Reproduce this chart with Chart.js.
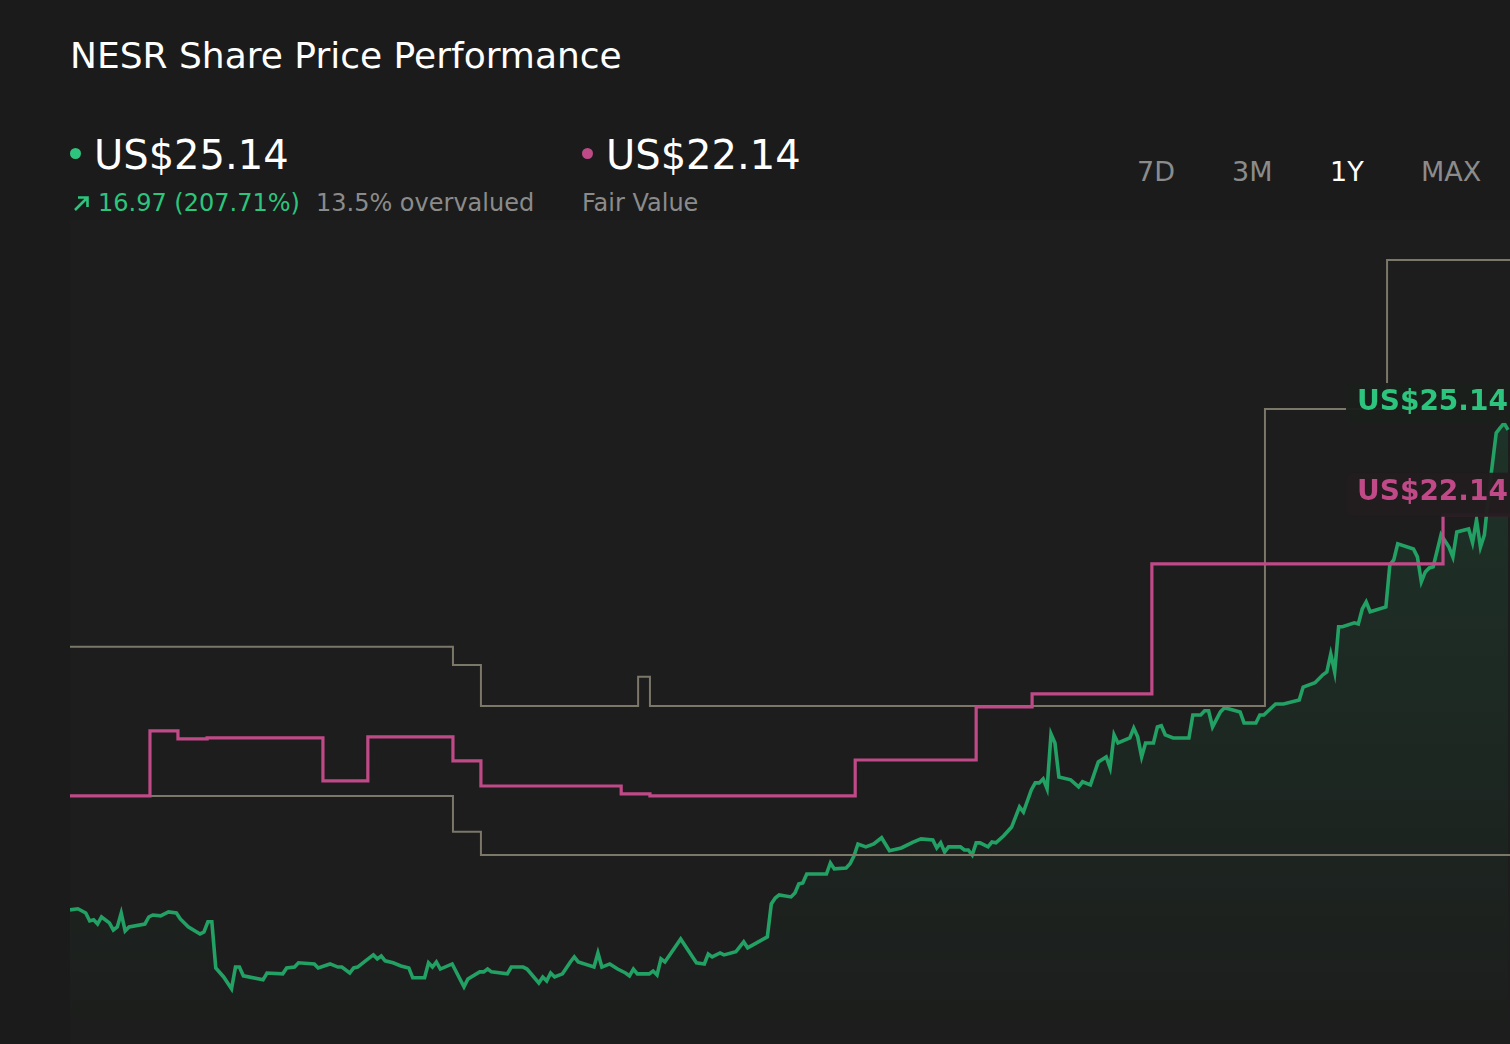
<!DOCTYPE html>
<html>
<head>
<meta charset="utf-8">
<script src="https://cdn.jsdelivr.net/npm/chart.js@4.4.1/dist/chart.umd.min.js"></script>
<style>
  html, body { margin: 0; padding: 0; background: #1b1b1b; }
  body { width: 1510px; height: 1044px; position: relative; overflow: hidden; font-family: 'DejaVu Sans', sans-serif; color: #fff; }
  .abs { position: absolute; white-space: nowrap; line-height: 1; }
  .title { left: 70px; top: 38px; font-size: 36px; }
  .big { top: 135px; font-size: 40px; }
  .dot { position: absolute; width: 11px; height: 11px; border-radius: 50%; }
  .sub { top: 191px; font-size: 24px; }
  .muted { color: #8b8b8b; }
  .up { color: #2dc57e; }
  .range { top: 158px; font-size: 27px; color: #8b8b8b; }
  .range.on { color: #fff; }
  #chartBox { position: absolute; left: 70px; top: 220px; width: 1440px; height: 824px; }
</style>
</head>
<body>
<div class="abs title">NESR Share Price Performance</div>

<div class="dot" style="left:70px; top:148px; background:#2dc57e;"></div>
<div class="abs big" style="left:94px;">US$25.14</div>
<svg class="abs" style="left:72px; top:193px;" width="20" height="20" viewBox="0 0 20 20">
  <path d="M3 17 L15 5 M6 4.5 H15.5 V14" stroke="#2dc57e" stroke-width="2.6" fill="none"/>
</svg>
<div class="abs sub up" style="left:98px;">16.97 (207.71%)</div>
<div class="abs sub muted" style="left:316px;">13.5% overvalued</div>

<div class="dot" style="left:582px; top:148px; background:#c04a88;"></div>
<div class="abs big" style="left:606px;">US$22.14</div>
<div class="abs sub muted" style="left:582px;">Fair Value</div>

<div class="abs range" style="left:1137px;">7D</div>
<div class="abs range" style="left:1232px;">3M</div>
<div class="abs range on" style="left:1330px;">1Y</div>
<div class="abs range" style="left:1421px;">MAX</div>

<div id="chartBox"><canvas id="priceChart" width="1440" height="824"></canvas></div>

<script>
// share price, days since start of the 1Y window
const priceDays = [0, 2, 4, 5, 6, 7, 8, 10, 11, 12, 13, 14, 15, 19, 20, 21, 23, 25, 27, 28, 30, 33, 34, 35, 36, 37, 39, 41, 42, 43, 44, 49, 50, 54, 55, 57, 58, 62, 63, 66, 68, 69, 71, 72, 73, 75, 77, 78, 79, 80, 82, 84, 86, 87, 90, 91, 92, 93, 94, 97, 100, 101, 104, 105, 106, 107, 111, 112, 115, 116, 119, 120, 121, 122, 123, 125, 127, 128, 129, 133, 134, 135, 137, 139, 141, 142, 143, 144, 147, 148, 149, 150, 151, 155, 159, 161, 162, 163, 165, 166, 169, 171, 172, 177, 178, 179, 180, 183, 184, 185, 186, 187, 192, 193, 194, 197, 198, 199, 200, 202, 204, 206, 208, 211, 214, 216, 219, 220, 221, 222, 223, 226, 227, 228, 229, 230, 231, 233, 234, 235, 237, 239, 241, 242, 244, 245, 246, 247, 248, 249, 250, 251, 254, 256, 257, 259, 261, 263, 264, 265, 266, 269, 270, 271, 272, 273, 275, 276, 277, 278, 280, 284, 285, 287, 288, 289, 290, 292, 293, 294, 297, 298, 301, 302, 303, 306, 308, 312, 313, 316, 318, 319, 320, 321, 322, 323, 326, 327, 328, 329, 330, 334, 335, 336, 337, 341, 342, 343, 344, 345, 346, 348, 350, 351, 352, 355, 356, 357, 358, 359, 360, 362, 363, 364, 365];
const priceValues = [8.17, 8.21, 8.06, 7.78, 7.82, 7.67, 7.92, 7.71, 7.46, 7.57, 8.06, 7.43, 7.57, 7.67, 7.92, 7.99, 7.96, 8.10, 8.06, 7.85, 7.57, 7.32, 7.39, 7.75, 7.75, 6.12, 5.80, 5.38, 6.15, 6.15, 5.84, 5.70, 5.94, 5.91, 6.12, 6.15, 6.30, 6.26, 6.12, 6.26, 6.15, 6.15, 5.94, 6.12, 6.15, 6.37, 6.58, 6.44, 6.54, 6.37, 6.30, 6.19, 6.12, 5.77, 5.77, 6.30, 6.15, 6.33, 6.08, 6.26, 5.45, 5.73, 5.98, 5.98, 6.08, 5.98, 5.91, 6.15, 6.15, 6.08, 5.59, 5.80, 5.66, 5.94, 5.80, 5.91, 6.33, 6.51, 6.33, 6.15, 6.65, 6.15, 6.26, 6.08, 5.94, 5.84, 6.08, 5.91, 5.91, 6.01, 5.87, 6.44, 6.33, 7.14, 6.30, 6.26, 6.61, 6.51, 6.65, 6.58, 6.69, 7.04, 6.83, 7.22, 8.38, 8.59, 8.70, 8.63, 8.77, 9.09, 9.12, 9.44, 9.44, 9.83, 9.62, 9.65, 9.80, 10.08, 10.50, 10.40, 10.50, 10.72, 10.26, 10.36, 10.57, 10.68, 10.64, 10.36, 10.54, 10.22, 10.40, 10.40, 10.29, 10.29, 10.11, 10.54, 10.54, 10.40, 10.57, 10.54, 10.79, 11.10, 11.81, 11.63, 12.41, 12.66, 12.66, 12.80, 12.45, 14.39, 14.07, 12.87, 12.77, 12.52, 12.70, 12.59, 13.40, 13.58, 13.19, 14.36, 14.07, 14.25, 14.60, 14.29, 13.58, 14.07, 14.07, 14.64, 14.68, 14.36, 14.25, 14.25, 15.06, 15.06, 15.21, 15.21, 14.64, 15.17, 15.31, 15.28, 15.17, 14.78, 14.78, 15.06, 15.06, 15.45, 15.45, 15.59, 16.05, 16.20, 16.48, 16.58, 17.22, 16.58, 18.18, 18.18, 18.32, 18.28, 18.81, 19.06, 18.71, 18.88, 20.37, 20.54, 21.11, 20.93, 20.65, 19.77, 20.12, 20.26, 20.30, 21.43, 21.00, 20.65, 21.53, 21.64, 21.15, 21.96, 21.00, 21.43, 22.77, 25.03, 25.21, 25.38, 25.14];

// fair value estimate (step changes)
const fairDays = [0, 20.3, 27.4, 34.8, 64.2, 75.6, 97.2, 104.3, 139.9, 147.2, 199.3, 230.0, 244.2, 274.6, 348.5, 365.5];
const fairValues = [12.20, 14.50, 14.22, 14.25, 12.73, 14.29, 13.44, 12.55, 12.27, 12.20, 13.47, 15.35, 15.81, 20.40, 22.14, 22.14];

// analyst target range
const highDays = [0, 97.2, 104.3, 144.2, 147.2, 303.3, 334.3, 365.5];
const highValues = [17.47, 16.83, 15.38, 16.41, 15.38, 25.88, 31.15, 31.15];
const lowDays = [0, 97.2, 104.3, 365.5];
const lowValues = [12.20, 10.93, 10.11, 10.11];

const lastPrice = 25.14;
const fairValue = 22.14;

const GREEN = '#23a064';
const GREEN_TEXT = '#2dc57e';
const PINK = '#c04a88';
const GREY = '#7b786a';

const toPoints = (xs, ys) => xs.map((d, i) => ({ x: d, y: ys[i] }));

const areaBg = {
    id: 'areaBg',
    beforeDraw(chart) {
        const { ctx, chartArea: a } = chart;
        ctx.save();
        ctx.fillStyle = '#1c1d1c';
        ctx.fillRect(a.left, a.top, a.right - a.left, a.bottom - a.top);
        ctx.restore();
    }
};

function drawTag(ctx, right, centerY, text, color, bg, below) {
    const left = right - 164;
    const top = centerY - 19;
    const h = 39 + below;
    ctx.save();
    ctx.fillStyle = bg;
    ctx.beginPath();
    ctx.roundRect(left, top, 200, h, 6);
    ctx.fill();
    ctx.fillStyle = color;
    ctx.font = 'bold 28px "DejaVu Sans"';
    ctx.textBaseline = 'middle';
    ctx.fillText(text, left + 11, centerY + 1);
    ctx.restore();
}

const valueTags = {
    id: 'valueTags',
    afterDatasetsDraw(chart) {
        const { ctx, chartArea, scales: { y } } = chart;
        drawTag(ctx, chartArea.right, y.getPixelForValue(fairValue) - 23, 'US$' + fairValue.toFixed(2), PINK, 'rgba(34,28,31,0.97)', 5);
        drawTag(ctx, chartArea.right, y.getPixelForValue(lastPrice) - 28, 'US$' + lastPrice.toFixed(2), GREEN_TEXT, 'rgba(28,31,29,0.97)', 1);
    }
};

new Chart(document.getElementById('priceChart'), {
    type: 'line',
    data: {
        datasets: [
            { label: 'Fair Value', data: toPoints(fairDays, fairValues), borderColor: PINK, borderWidth: 3.2, stepped: true, fill: false },
            { label: 'High', data: toPoints(highDays, highValues), borderColor: GREY, borderWidth: 2, stepped: true, fill: false },
            { label: 'Low', data: toPoints(lowDays, lowValues), borderColor: GREY, borderWidth: 2, stepped: true, fill: false },
            {
                label: 'Price',
                data: toPoints(priceDays, priceValues),
                borderColor: GREEN,
                borderWidth: 3.6,
                tension: 0,
                fill: 'start',
                backgroundColor: (context) => {
                    const chart = context.chart;
                    const { chartArea, scales } = chart;
                    if (!chartArea) return 'rgba(0,0,0,0)';
                    const g = chart.ctx.createLinearGradient(0, scales.y.getPixelForValue(lastPrice), 0, chartArea.bottom);
                    g.addColorStop(0, 'rgba(40,180,115,0.14)');
                    g.addColorStop(1, 'rgba(40,180,115,0)');
                    return g;
                }
            }
        ]
    },
    options: {
        responsive: false,
        animation: false,
        layout: { padding: 0 },
        elements: { point: { radius: 0 }, line: { borderJoinStyle: 'miter', capBezierPoints: false } },
        scales: {
            x: { type: 'linear', min: 0, max: 365.5, display: false },
            y: { min: 3.43, max: 32.56, display: false }
        },
        plugins: { legend: { display: false }, tooltip: { enabled: false } }
    },
    plugins: [areaBg, valueTags]
});
</script>
</body>
</html>
